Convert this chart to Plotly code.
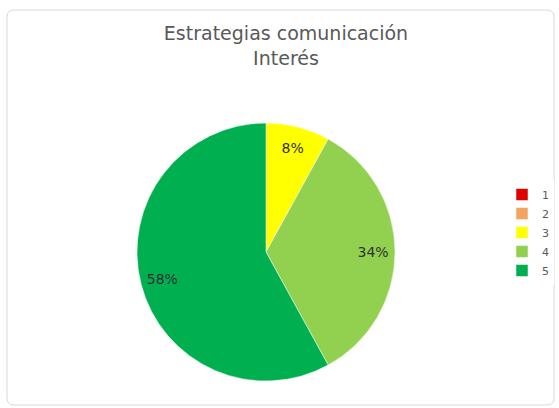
import plotly.graph_objects as go

labels = ["1", "2", "3", "4", "5"]
values = [0, 0, 8, 34, 58]
colors = ["#E00000", "#F4A460", "#FFFF00", "#92D050", "#00B050"]
title_lines = ["Estrategias comunicación", "Interés"]

W, H = 559, 408
texts = [f"{v}%" if v > 0 else "" for v in values]
dom = dict(x=[137/W, 395/W], y=[1-384/H, 1-120/H])

fig = go.Figure()
fig.add_trace(go.Pie(
    labels=labels, values=values, sort=False, direction="clockwise", rotation=0,
    marker=dict(colors=colors, line=dict(color="white", width=0.5)),
    textinfo="none", domain=dom, hoverinfo="label+percent",
))
# transparent ring carrying the percentage labels, placed towards the outer edge
fig.add_trace(go.Pie(
    labels=labels, values=values, sort=False, direction="clockwise", rotation=0,
    hole=0.66, showlegend=False, hoverinfo="skip",
    marker=dict(colors=["rgba(0,0,0,0)"] * len(labels), line=dict(width=0)),
    text=texts, textinfo="text", textposition="inside", insidetextorientation="horizontal",
    textfont=dict(family="DejaVu Sans", size=14, color="#303030"),
    domain=dom,
))

rx, ry = 7/W, 7/H
x0, x1 = 7/W, 554/W
y0, y1 = 1-405/H, 1-10/H
path = (f"M {x0+rx} {y1} L {x1-rx} {y1} Q {x1} {y1} {x1} {y1-ry} "
        f"L {x1} {y0+ry} Q {x1} {y0} {x1-rx} {y0} L {x0+rx} {y0} "
        f"Q {x0} {y0} {x0} {y0+ry} L {x0} {y1-ry} Q {x0} {y1} {x0+rx} {y1} Z")

fig.update_layout(
    width=W, height=H,
    margin=dict(l=0, r=0, t=0, b=0),
    paper_bgcolor="white", plot_bgcolor="white",
    title=dict(text="<br>".join(title_lines), x=286/W, xanchor="center", y=1-40/H, yanchor="top",
               font=dict(family="DejaVu Sans", size=19, color="#595959")),
    legend=dict(x=502/W, xanchor="left", y=1-180/H, yanchor="top",
                font=dict(family="DejaVu Sans", size=11, color="#595959"),
                itemwidth=30, tracegroupgap=0),
    shapes=[dict(type="path", xref="paper", yref="paper", path=path,
                 line=dict(color="#D9D9D9", width=1), fillcolor="rgba(0,0,0,0)", layer="below")],
)

fig.write_html("out.html", config={"displayModeBar": False},
               post_script="document.body.style.margin='0';")
